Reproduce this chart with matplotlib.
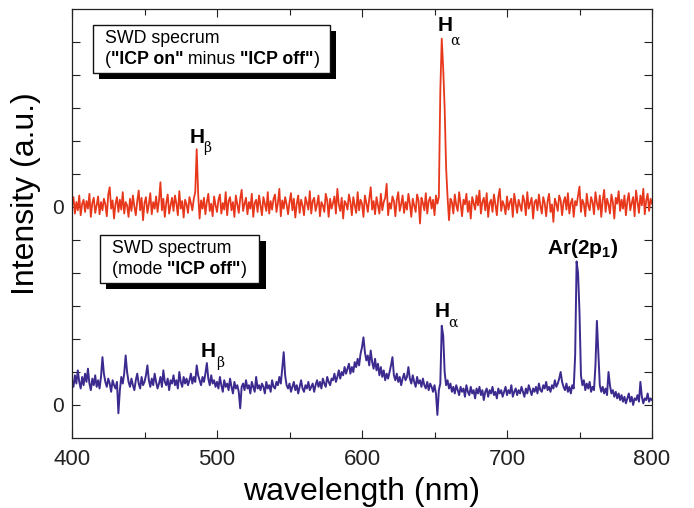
import numpy as np
import matplotlib
matplotlib.use("Agg")
import matplotlib.pyplot as plt
from matplotlib.offsetbox import TextArea, HPacker, VPacker, DrawingArea, AnnotationBbox
from matplotlib.patheffects import SimplePatchShadow, Normal
from matplotlib.ticker import MultipleLocator

plt.rcParams['font.family'] = ['Liberation Sans', 'DejaVu Sans']
plt.rcParams['mathtext.fontset'] = 'custom'
plt.rcParams['mathtext.rm'] = 'Liberation Sans'
plt.rcParams['mathtext.bf'] = 'Liberation Sans:bold'

# wavelength grid (nm), 1 nm steps
wavelength = np.arange(400, 801, 1)

# "ICP on" minus "ICP off" difference spectrum (a.u., own zero)
icp_diff = [
    0.05, 0.30, -0.20, 0.15, -0.10, 0.35, -0.25, 0.10, 0.22, -0.15,
    0.18, -0.05, 0.40, -0.30, 0.12, 0.28, -0.18, 0.05, 0.32, -0.22,
    0.15, -0.10, 0.25, 0.08, -0.28, 0.38, 0.60, -0.05, 0.20, -0.35,
    0.10, 0.30, -0.15, 0.22, -0.08, 0.45, -0.20, 0.15, 0.05, -0.30,
    0.25, -0.12, 0.35, 0.02, -0.25, 0.18, 0.50, -0.10, 0.28, -0.40,
    0.12, 0.30, -0.18, 0.08, 0.42, -0.22, 0.15, -0.05, 0.32, -0.15,
    0.20, 0.75, -0.10, 0.25, -0.30, 0.12, 0.38, -0.20, 0.05, 0.28,
    -0.12, 0.35, 0.10, -0.25, 0.48, -0.05, 0.18, -0.32, 0.22, 0.08,
    -0.18, 0.30, 0.12, -0.10, 0.25, 0.45, 1.75, 0.40, -0.35, 0.20,
    -0.05, 0.28, -0.22, 0.15, 0.40, -0.12, 0.10, -0.28, 0.32, 0.05,
    -0.15, 0.22, 0.38, -0.20, 0.12, -0.08, 0.45, -0.25, 0.18, 0.30,
    -0.10, 0.15, -0.30, 0.35, 0.08, -0.18, 0.25, 0.52, -0.12, 0.10,
    0.28, -0.22, 0.15, -0.05, 0.40, -0.30, 0.12, 0.22, -0.15, 0.35,
    0.05, -0.25, 0.30, 0.10, -0.12, 0.45, -0.20, 0.18, -0.08, 0.25,
    0.38, -0.15, 0.12, 0.55, -0.28, 0.20, -0.05, 0.30, 0.08, -0.22,
    0.15, 0.42, -0.10, 0.25, -0.32, 0.10, 0.35, -0.18, 0.22, 0.05,
    -0.25, 0.30, 0.12, -0.08, 0.48, -0.20, 0.18, 0.28, -0.12, 0.08,
    0.35, -0.28, 0.15, 0.05, -0.15, 0.40, 0.20, -0.30, 0.25, -0.05,
    0.12, 0.32, -0.20, 0.55, 0.08, -0.12, 0.28, -0.35, 0.18, 0.10,
    -0.08, 0.38, 0.15, -0.25, 0.30, 0.05, -0.18, 0.45, -0.10, 0.22,
    0.10, -0.30, 0.35, 0.12, -0.15, 0.25, 0.60, -0.08, 0.18, -0.22,
    0.30, 0.05, -0.20, 0.40, -0.10, 0.15, 0.28, 0.70, -0.25, 0.12,
    -0.05, 0.32, 0.18, -0.28, 0.22, 0.45, -0.12, 0.08, 0.35, -0.18,
    0.15, -0.08, 0.40, 0.10, -0.30, 0.25, 0.05, -0.15, 0.38, 0.20,
    -0.50, 0.28, 0.12, -0.10, 0.42, -0.20, 0.18, 0.30, -0.05, 0.22,
    -0.25, 0.35, 0.10, 0.30, 3.50, 5.10, 4.20, 3.00, 1.20, 0.30,
    -0.40, 0.25, 0.15, -0.20, 0.38, 0.05, -0.12, 0.45, 0.10, -0.28,
    0.22, 0.08, 0.40, -0.15, 0.18, -0.35, 0.30, 0.12, -0.08, 0.35,
    0.05, 0.50, -0.20, 0.15, 0.28, -0.10, 0.42, -0.30, 0.12, 0.22,
    -0.15, 0.38, 0.08, -0.25, 0.30, 0.55, -0.12, 0.18, 0.05, -0.22,
    0.32, -0.08, 0.15, 0.25, -0.30, 0.40, 0.10, -0.18, 0.22, 0.05,
    -0.12, 0.35, 0.18, -0.25, 0.45, -0.05, 0.12, 0.28, -0.35, 0.15,
    0.22, -0.10, 0.38, 0.05, -0.20, 0.30, 0.12, -0.28, 0.18, 0.40,
    -0.15, 0.08, -0.45, 0.25, 0.10, -0.12, 0.35, 0.20, -0.25, 0.15,
    0.30, -0.08, 0.42, -0.20, 0.12, 0.25, -0.30, 0.18, 0.05, 0.35,
    0.62, -0.15, 0.22, 0.10, -0.28, 0.40, 0.05, -0.10, 0.30, 0.15,
    -0.22, 0.45, 0.12, -0.08, 0.35, -0.30, 0.20, 0.52, -0.15, 0.25,
    0.08, -0.20, 0.38, 0.15, -0.35, 0.28, 0.10, 0.48, -0.12, 0.22,
    -0.05, 0.35, -0.25, 0.18, 0.42, -0.10, 0.12, 0.30, -0.28, 0.50,
    0.15, -0.18, 0.35, 0.05, 0.55, -0.22, 0.20, 0.40, -0.12, 0.25,
    0.10,
]

# "ICP off" mode spectrum (a.u.)
icp_off = [
    0.75, 0.55, 0.90, 0.65, 1.05, 0.70, 0.50, 0.85, 0.60, 0.95,
    0.70, 1.10, 0.65, 0.45, 0.80, 0.60, 0.90, 0.55, 0.75, 0.50,
    0.85, 1.45, 0.95, 0.70, 0.55, 0.80, 0.65, 0.40, 0.75, 0.60,
    0.50, 0.70, -0.25, 0.45, 0.85, 0.65, 0.95, 1.50, 1.00, 0.70,
    0.55, 0.80, 0.60, 0.45, 0.75, 0.95, 0.65, 0.50, 0.85, 0.60,
    0.70, 0.90, 1.20, 0.75, 0.55, 0.80, 0.60, 0.95, 0.70, 0.50,
    0.65, 0.85, 0.55, 1.05, 0.70, 0.60, 0.80, 0.45, 0.75, 0.65,
    0.90, 0.60, 0.75, 0.50, 1.00, 0.70, 0.55, 0.85, 0.65, 0.80,
    0.60, 0.75, 0.95, 0.65, 0.85, 0.70, 1.20, 0.90, 0.75, 0.60,
    0.85, 0.70, 0.95, 1.27, 0.80, 0.60, 0.90, 0.65, 0.75, 0.55,
    0.70, 0.50, 0.85, 0.60, 0.40, 0.75, 0.55, 0.65, 0.45, 0.80,
    0.55, 0.35, 0.70, 0.50, 0.60, 0.40, -0.10, 0.55, 0.65, 0.45,
    0.75, 0.50, 0.60, 0.35, 0.70, 0.55, 0.40, 0.85, 0.50, 0.60,
    0.45, 0.65, 0.55, 0.35, 0.70, 0.50, 0.60, 0.40, 0.75, 0.55,
    0.50, 0.70, 0.60, 0.85, 0.65, 1.10, 1.60, 0.90, 0.60, 0.50,
    0.65, 0.40, 0.55, 0.70, 0.45, 0.60, 0.35, 0.55, 0.75, 0.50,
    0.40, 0.60, 0.50, 0.70, 0.45, 0.55, 0.65, 0.40, 0.60, 0.75,
    0.55, 0.70, 0.50, 0.80, 0.65, 0.55, 0.85, 0.70, 0.60, 0.80,
    0.75, 0.95, 0.70, 0.85, 1.05, 0.80, 1.00, 0.90, 1.15, 0.95,
    1.10, 1.25, 0.95, 1.15, 1.00, 1.30, 1.15, 1.40, 1.20, 1.55,
    1.75, 2.05, 1.60, 1.35, 1.50, 1.20, 1.65, 1.30, 1.10, 1.40,
    1.05, 1.25, 0.90, 1.15, 0.85, 1.05, 0.75, 0.95, 0.80, 1.00,
    1.20, 1.45, 0.90, 0.75, 0.95, 0.70, 0.85, 0.60, 0.80, 0.95,
    0.75, 0.85, 1.15, 0.80, 0.65, 0.90, 0.70, 0.55, 0.85, 0.65,
    0.75, 0.55, 0.80, 0.60, 0.50, 0.70, 0.45, 0.65, 0.55, 0.40,
    0.60, 0.35, -0.30, 0.45, 0.65, 2.40, 2.10, 1.00, 0.60, 0.75,
    0.50, 0.65, 0.40, 0.55, 0.35, 0.60, 0.45, 0.30, 0.55, 0.40,
    0.50, 0.25, 0.60, 0.40, 0.30, 0.55, 0.35, 0.45, 0.20, 0.50,
    0.35, 0.55, 0.30, 0.45, 0.15, 0.40, 0.50, 0.25, 0.45, 0.35,
    0.55, 0.30, 0.40, 0.20, 0.50, 0.35, 0.45, 0.25, 0.40, 0.55,
    0.30, 0.45, 0.35, 0.60, 0.25, 0.40, 0.50, 0.30, 0.45, 0.35,
    0.55, 0.40, 0.25, 0.50, 0.35, 0.60, 0.45, 0.30, 0.50, 0.40,
    0.55, 0.35, 0.65, 0.45, 0.40, 0.60, 0.50, 0.70, 0.45, 0.55,
    0.40, 0.60, 0.50, 0.75, 0.55, 0.65, 0.80, 1.00, 0.70, 0.55,
    0.45, 0.65, 0.40, 0.55, 0.35, 0.60, 0.50, 1.50, 4.35, 4.00,
    2.80, 0.90, 0.60, 0.75, 0.45, 0.65, 0.50, 0.70, 0.40, 0.55,
    0.45, 1.20, 2.55, 1.60, 0.60, 0.40, 0.55, 0.35, 0.50, 0.30,
    1.00, 0.60, 0.35, 0.45, 0.25, 0.40, 0.20, 0.35, 0.15, 0.30,
    0.10, 0.25, 0.05, 0.20, 0.35, 0.10, 0.25, 0.00, 0.20, 0.15,
    0.30, 0.10, 0.70, 0.25, 0.05, 0.20, 0.15, 0.35, 0.10, 0.20,
    0.15,
]

diff_offset = 6.0          # vertical shift of the upper trace
zero_levels = [0, diff_offset]

red = '#e8381c'
purple = '#3c2a8e'

fig = plt.figure(figsize=(6.94, 5.08), dpi=100)
ax = fig.add_axes([72 / 694, 1 - 438 / 508, 580 / 694, 429 / 508])

ax.plot(wavelength, np.asarray(icp_diff) + diff_offset, color=red, lw=1.3)
ax.plot(wavelength, icp_off, color=purple, lw=1.4)

ax.set_xlim(400, 800)
ax.set_ylim(-1, 12)

ax.xaxis.set_major_locator(MultipleLocator(100))
ax.xaxis.set_minor_locator(MultipleLocator(50))
ax.set_yticks(range(0, 12))
ax.set_yticklabels(['0' if v in zero_levels else '' for v in range(0, 12)])
ax.tick_params(axis='both', which='both', direction='in', top=True, right=True,
               width=0.8, colors='#222222')
ax.tick_params(axis='x', which='major', length=6, labelsize=16, pad=8)
ax.tick_params(axis='x', which='minor', length=4)
ax.tick_params(axis='y', length=6, labelsize=15, pad=6)
for s in ax.spines.values():
    s.set_linewidth(0.9)
    s.set_color('#222222')

ax.set_xlabel('wavelength (nm)', fontsize=23, labelpad=5)
ax.set_ylabel('Intensity (a.u.)', fontsize=23)
ax.yaxis.set_label_coords(-0.053, 0.57)

# peak labels
def peak_label(xh, yh, xs, ys, sub):
    ax.text(xh, yh, 'H', fontsize=15, fontweight='bold', ha='center', va='center')
    ax.text(xs, ys, sub, fontsize=10, ha='center', va='center', family='DejaVu Serif')

peak_label(657, 11.5, 664, 11.05, 'α')
peak_label(486, 8.12, 493, 7.79, 'β')
peak_label(655, 2.82, 663, 2.48, 'α')
peak_label(494, 1.61, 502, 1.27, 'β')

ax.text(727.5, 4.75, r'Ar(2p$_{\mathbf{1}}$)', fontsize=15, fontweight='bold',
        ha='left', va='center')

# boxed captions with drop shadow
def caption(lines, xy, padx):
    rows = []
    for parts in lines:
        areas = [TextArea(t, textprops=dict(fontsize=12.8, fontweight=w)) for t, w in parts]
        rows.append(HPacker(children=areas, align='baseline', pad=0, sep=0))
    text_block = VPacker(children=rows, align='left', pad=0, sep=3)
    body = HPacker(children=[DrawingArea(padx[0], 1), text_block, DrawingArea(padx[1], 1)],
                   align='center', pad=0, sep=0)
    box = VPacker(children=[body], pad=3.5, sep=0)
    ab = AnnotationBbox(box, xy, xycoords='figure pixels', box_alignment=(0, 1),
                        frameon=True, pad=0.0,
                        bboxprops=dict(boxstyle='square,pad=0', ec='#111111', fc='white', lw=1.0))
    ab.patch.set_path_effects([SimplePatchShadow(offset=(4.5, -4.5), shadow_rgbFace='black',
                                                 alpha=1.0), Normal()])
    fig.add_artist(ab)

caption([[('SWD specrum', 'normal')],
         [('(', 'normal'), ('"ICP on"', 'bold'), (' minus ', 'normal'),
          ('"ICP off"', 'bold'), (')', 'normal')]],
        (93, 508 - 25), (5.1, 3.5))
caption([[('SWD spectrum', 'normal')],
         [('(mode ', 'normal'), ('"ICP off"', 'bold'), (')', 'normal')]],
        (100, 508 - 235), (5.1, 5.8))

fig.savefig('out.png', dpi=100)
